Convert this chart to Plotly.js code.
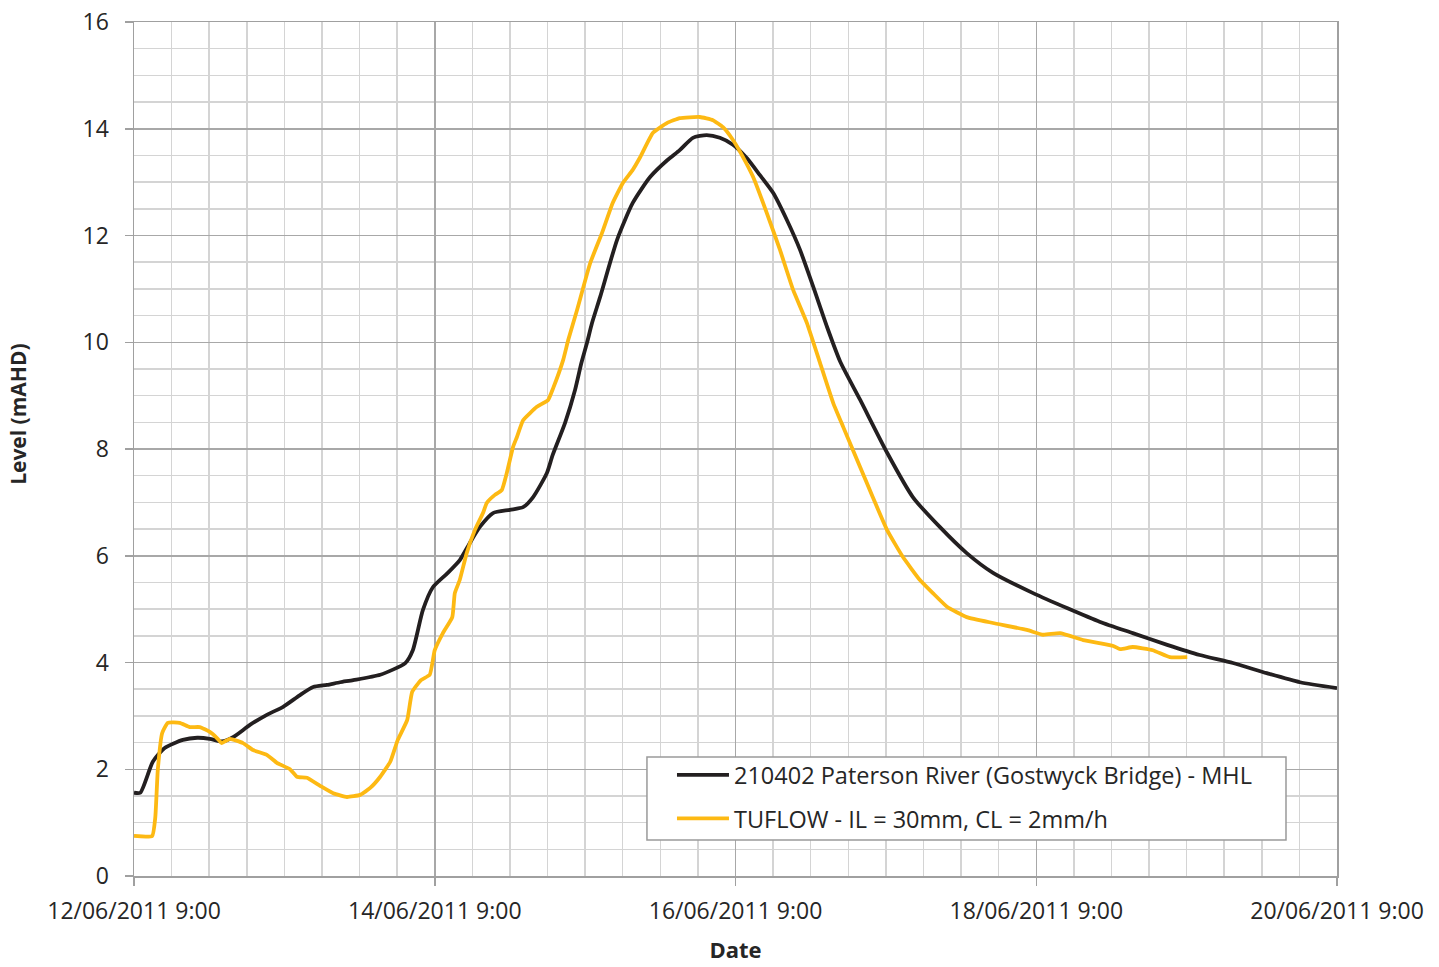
<!DOCTYPE html>
<html>
<head>
<meta charset="utf-8">
<script src="https://cdn.plot.ly/plotly-3.0.1.min.js"></script>
<style>html,body{margin:0;padding:0;background:#fff;}#chart{width:1439px;height:967px;}</style>
</head>
<body>
<div id="chart"></div>
<script>
// Hours after 12/06/2011 9:00
var mhlHours = [0,1,3.0,4.9,7.8,10.1,12.1,14.0,15.8,18.5,21.2,23.8,26.5,28.6,30.8,32.9,35.0,39.3,43.3,44.5,46.1,47.7,50.0,52.0,53.6,55.2,57.3,60.0,62.1,63.7,65.9,66.8,68.8,70.4,71.4,72.3,73.1,74.4,77.1,79.6,82.4,85.1,87.1,89.2,91.4,93.5,95.6,97.8,99.9,102.0,104.2,106.3,108.4,110.6,112.7,115.9,120.2,124.3,128.6,132.9,137.1,143.5,148.9,154.2,159.4,164.9,170.1,175.4,180.8,186.1,192.0];
var mhlLevel = [1.56,1.56,2.14,2.40,2.55,2.59,2.57,2.52,2.60,2.83,3.02,3.17,3.39,3.54,3.58,3.63,3.67,3.77,3.99,4.23,4.98,5.41,5.67,5.92,6.24,6.54,6.80,6.86,6.91,7.10,7.55,7.88,8.49,9.11,9.61,9.99,10.36,10.85,11.92,12.61,13.10,13.41,13.60,13.83,13.88,13.83,13.70,13.45,13.13,12.80,12.29,11.73,11.04,10.29,9.64,8.92,7.93,7.10,6.54,6.05,5.68,5.30,5.02,4.76,4.55,4.33,4.14,3.99,3.80,3.63,3.52];

var tufHours = [0,2.9,3.4,3.8,4.5,5.4,7.3,8.9,10.5,12.1,13.2,14.0,15.3,17.4,19.0,21.2,22.8,24.9,26.0,27.6,29.7,31.8,34.0,36.1,37.7,39.3,40.9,42.1,43.6,44.4,45.8,47.2,48.0,49.3,50.8,51.2,52.0,53.1,54.4,55.7,56.3,57.6,58.7,59.5,60.5,61.1,62.1,64.3,66.1,66.9,68.5,69.3,70.7,72.8,74.7,76.4,78.0,79.6,80.8,82.8,85.1,87.1,90.3,92.4,94.0,95.6,97.2,98.8,101.0,103.1,105.2,107.4,109.5,111.6,113.2,115.9,117.9,120.2,122.7,125.4,127.5,129.8,132.9,137.1,142.5,145.1,147.8,151.5,156.3,157.4,159.4,162.6,165.3,168.1];
var tufLevel = [0.75,0.75,1.10,1.99,2.68,2.87,2.87,2.79,2.79,2.70,2.59,2.49,2.57,2.49,2.36,2.27,2.12,2.00,1.86,1.84,1.69,1.55,1.48,1.52,1.65,1.86,2.14,2.55,2.92,3.45,3.67,3.77,4.23,4.55,4.85,5.30,5.55,6.05,6.48,6.80,6.99,7.14,7.23,7.55,8.04,8.22,8.54,8.79,8.92,9.14,9.67,10.04,10.60,11.48,12.05,12.61,12.98,13.23,13.47,13.92,14.11,14.20,14.22,14.16,14.03,13.79,13.47,13.10,12.42,11.73,10.98,10.36,9.61,8.86,8.41,7.66,7.10,6.48,5.98,5.55,5.30,5.04,4.85,4.74,4.61,4.52,4.55,4.42,4.31,4.25,4.29,4.23,4.10,4.10];

var tickVals = ['2011-06-12 09:00','2011-06-14 09:00','2011-06-16 09:00','2011-06-18 09:00','2011-06-20 09:00'];
var tickText = ['12/06/2011 9:00','14/06/2011 9:00','16/06/2011 9:00','18/06/2011 9:00','20/06/2011 9:00'];
var seriesNames = ['210402 Paterson River (Gostwyck Bridge) - MHL','TUFLOW - IL = 30mm, CL = 2mm/h'];

var base = Date.UTC(2011,5,12,9,0,0);
function toDates(h){ return h.map(function(v){ return base + v*3600000; }); }

var font = '"Open Sans", "Noto Sans", sans-serif';
var traces = [
  {x: toDates(mhlHours), y: mhlLevel, type:'scatter', mode:'lines', name: seriesNames[0], legendgroup:'a',
   line:{color:'#231f20', width:3.8, shape:'spline', smoothing:0.6}},
  {x: toDates(tufHours), y: tufLevel, type:'scatter', mode:'lines', name: seriesNames[1], legendgroup:'b',
   line:{color:'#fdb913', width:3.8, shape:'spline', smoothing:0.4}}
];

var layout = {
  width:1439, height:967,
  margin:{l:134, r:102, t:22, b:91, pad:0},
  paper_bgcolor:'#ffffff', plot_bgcolor:'#ffffff',
  font:{family:font, color:'#262626', size:23},
  showlegend:true,
  legend:{x:0.4472, y:0.1440, xanchor:'left', yanchor:'top', bgcolor:'rgba(0,0,0,0)',
    borderwidth:0, font:{family:font, size:23.5, color:'#262626'},
    traceorder:'grouped', tracegroupgap:10, itemwidth:52},
  shapes:[{type:'rect', xref:'paper', yref:'paper', x0:0.4264, x1:0.9576, y0:0.04215, y1:0.13934,
    fillcolor:'#ffffff', line:{color:'#9a9a9a', width:1.5}, layer:'above'}],
  xaxis:{
    type:'date', range:[tickVals[0], tickVals[4]],
    tickmode:'array', tickvals:tickVals, ticktext:tickText,
    ticks:'outside', ticklen:8, tickwidth:1.5, tickcolor:'#a0a0a0',
    showgrid:true, gridcolor:'#a8a8a8', gridwidth:1.5,
    minor:{tick0:tickVals[0], dtick:21600000, showgrid:true, gridcolor:'#d4d4d4', gridwidth:1.5, ticks:''},
    showline:true, linecolor:'#a0a0a0', linewidth:1.5, mirror:true,
    tickfont:{family:font, size:23, color:'#262626'}, ticklabelstandoff:6,
    zeroline:false,
    title:{text:'Date', font:{family:font, size:22, color:'#262626', weight:'bold'}, standoff:17}
  },
  yaxis:{
    range:[0,16], tickmode:'linear', tick0:0, dtick:2,
    ticks:'outside', ticklen:8, tickwidth:1.5, tickcolor:'#a0a0a0',
    showgrid:true, gridcolor:'#a8a8a8', gridwidth:1.5,
    minor:{tick0:0, dtick:0.5, showgrid:true, gridcolor:'#d4d4d4', gridwidth:1.5, ticks:''},
    showline:true, linecolor:'#a0a0a0', linewidth:1.5, mirror:true,
    tickfont:{family:font, size:23, color:'#262626'}, ticklabelstandoff:11,
    zeroline:false
  },
  annotations:[{
    text:'Level (mAHD)', xref:'paper', yref:'paper', x:-0.0964, y:0.54,
    xanchor:'center', yanchor:'middle', textangle:-90, showarrow:false,
    font:{family:font, size:21, color:'#262626', weight:'bold'}
  }]
};

Plotly.newPlot('chart', traces, layout, {displayModeBar:false, staticPlot:true});
</script>
</body>
</html>
